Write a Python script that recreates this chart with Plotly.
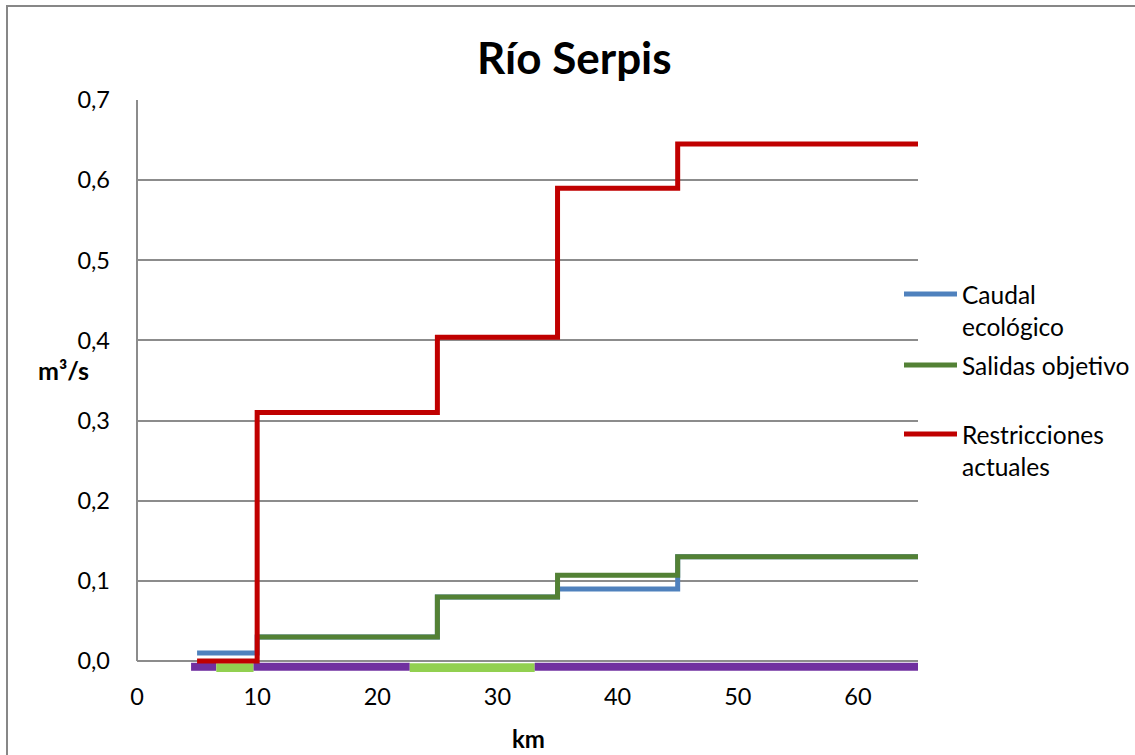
import plotly.graph_objects as go

# River kilometre breakpoints and flow values (m³/s) for each stepped series
km_steps = [5, 10, 25, 35, 45, 65]
caudal_ecologico = [0.01, 0.03, 0.08, 0.09, 0.13, 0.13]
km_salidas = [10, 25, 35, 45, 65]
salidas_objetivo = [0.03, 0.08, 0.107, 0.13, 0.13]
restricciones_actuales = [0.0, 0.31, 0.404, 0.59, 0.645, 0.645]

# River stretches drawn as bands just under the axis
tramo_inicio = [4.5, 6.6, 9.7, 22.7, 33.1]
tramo_fin = [6.6, 9.7, 22.7, 33.1, 65]
tramo_tipo = ["a", "b", "a", "b", "a"]
tramo_nivel = {"a": -0.0072, "b": -0.0084}
tramo_ancho = {"a": 8, "b": 9}
tramo_color = {"a": "#7030A0", "b": "#92D050"}

y_ticks = [0.0, 0.1, 0.2, 0.3, 0.4, 0.5, 0.6, 0.7]
x_ticks = [0, 10, 20, 30, 40, 50, 60]
y_min = -0.0137  # a little room under zero so the bands are not clipped

series = [
    ("Caudal<br>ecológico", km_steps, caudal_ecologico, "#4F81BD"),
    ("Salidas objetivo", km_salidas, salidas_objetivo, "#538135"),
    ("Restricciones<br>actuales", km_steps, restricciones_actuales, "#C00000"),
]

FONT = "Lato, Calibri, Carlito, sans-serif"
GRID = "#8C8C8C"

fig = go.Figure()

for t0, t1, kind in zip(tramo_inicio, tramo_fin, tramo_tipo):
    fig.add_trace(go.Scatter(
        x=[t0, t1], y=[tramo_nivel[kind]] * 2, mode="lines",
        line=dict(color=tramo_color[kind], width=tramo_ancho[kind]),
        showlegend=False, hoverinfo="skip",
    ))

for name, xs, ys, color in series:
    fig.add_trace(go.Scatter(
        x=xs, y=ys, mode="lines", line_shape="hv",
        line=dict(color=color, width=5), name=name,
        showlegend=False, cliponaxis=False,
    ))

# Plot-area geometry in pixels
LEFT, TOP, W_PLOT, H_PLOT = 137, 100, 781, 572


def px_to_paper_x(px):
    return (px - LEFT) / W_PLOT


def px_to_paper_y(py):
    return (TOP + H_PLOT - py) / H_PLOT


# Legend built by hand (keeps the empty slots between entries)
legend_y = [294, 365, 434]
shapes = []
annotations = []
for (name, _, _, color), py in zip(series, legend_y):
    shapes.append(dict(
        type="line", xref="paper", yref="paper",
        x0=px_to_paper_x(904), x1=px_to_paper_x(957),
        y0=px_to_paper_y(py), y1=px_to_paper_y(py),
        line=dict(color=color, width=5),
    ))
    annotations.append(dict(
        xref="paper", yref="paper", x=px_to_paper_x(960), y=px_to_paper_y(py - 16),
        xanchor="left", yanchor="top", text=name, showarrow=False, align="left",
        font=dict(family=FONT, size=24.5, color="#000000"),
    ))

# Vertical axis line from 0 to the top of the scale
shapes.append(dict(
    type="line", xref="paper", yref="y", x0=0, x1=0, y0=0, y1=0.7,
    line=dict(color=GRID, width=2),
))

# Outer chart frame
shapes.append(dict(
    type="rect", xref="paper", yref="paper",
    x0=px_to_paper_x(7), x1=px_to_paper_x(1160),
    y0=px_to_paper_y(780), y1=px_to_paper_y(6),
    line=dict(color="#878787", width=2), layer="below",
))

annotations.append(dict(
    xref="paper", yref="paper", x=px_to_paper_x(63), y=px_to_paper_y(370),
    xanchor="center", yanchor="middle", text="<b>m³/s</b>", showarrow=False,
    font=dict(family=FONT, size=25, color="#000000"),
))
annotations.append(dict(
    xref="paper", yref="paper", x=px_to_paper_x(528), y=px_to_paper_y(738),
    xanchor="center", yanchor="middle", text="<b>km</b>", showarrow=False,
    font=dict(family=FONT, size=24, color="#000000"),
))
annotations.append(dict(
    xref="paper", yref="paper", x=px_to_paper_x(574), y=px_to_paper_y(57),
    xanchor="center", yanchor="middle", text="<b>Río Serpis</b>", showarrow=False,
    font=dict(family=FONT, size=44, color="#000000"),
))

fig.update_layout(
    width=1135, height=755,
    margin=dict(l=LEFT, r=1135 - LEFT - W_PLOT, t=TOP, b=755 - TOP - H_PLOT, pad=0),
    paper_bgcolor="#FFFFFF", plot_bgcolor="#FFFFFF",
    separators=", ",
    shapes=shapes, annotations=annotations,
    font=dict(family=FONT, size=23.5, color="#000000"),
    xaxis=dict(
        range=[0, 65], tickvals=x_ticks, showgrid=False, zeroline=False,
        showline=False, ticks="", ticklabelstandoff=8,
    ),
    yaxis=dict(
        range=[y_min, 0.7], tickvals=y_ticks, tickformat=".1f",
        showgrid=True, gridcolor=GRID, gridwidth=2,
        zeroline=True, zerolinecolor=GRID, zerolinewidth=2,
        showline=False, ticks="", ticklabelstandoff=26,
    ),
)

fig.write_html("out.html")
